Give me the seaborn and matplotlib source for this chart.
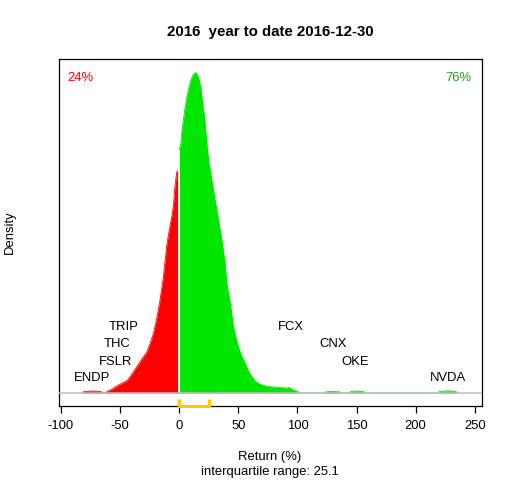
import numpy as np
import pandas as pd
import matplotlib
matplotlib.use("Agg")
import matplotlib.pyplot as plt
import seaborn as sns

# density (returns < 0 in red, >= 0 in green)
neg_x = [-81.5, -80.5, -73, -66, -65, -62, -61.1, -56.9, -52.7, -48.4, -44.2, -41.4, -38.6,
         -35.8, -33, -30.2, -27.3, -24.5, -21.7, -18.9, -16.1, -13.3, -10.4, -7.6, -6.2,
         -4.8, -3.4, -2, 0]
neg_d = [0, 1.5, 2, 1.5, 0, 0, 1.3, 3.7, 7, 9.7, 12.3, 16.3, 21.3,
         26.3, 31.3, 36, 41, 49.7, 59.7, 74.7, 93, 116, 148, 168, 176,
         188, 208, 221, 224]
pos_x = [0, 1.4, 2.3, 3.7, 5.1, 6.5, 7.9, 9.9, 12.1, 14.1, 16.3, 18.3, 19.7, 21.1, 22.5,
         23.9, 25.4, 26.8, 28.5, 30.4, 32.4, 34.7, 36.6, 38.9, 40.3, 42.3, 44, 45.9, 47.9,
         50.1, 52.1, 54.4, 57.2, 60, 64.2, 68.5, 74.1, 79.7, 85, 91, 93, 96.6, 100, 102,
         123, 124, 130, 135.5, 137, 144, 145, 150, 156, 157, 219, 220, 227, 234, 235]
pos_d = [243, 249, 262, 274, 286, 296, 304, 313, 319, 320.4, 316, 306, 291, 279, 262,
         243, 229, 219, 206, 193, 179, 163, 149, 129, 109, 96, 83, 66, 56,
         46, 39, 33, 26, 19, 12, 8.7, 6.7, 6, 5.5, 5, 5.5, 3, 1.5, 0,
         0, 1.2, 1.5, 1.2, 0, 0, 1.5, 2, 1.5, 0, 0, 1.5, 2.2, 1.5, 0]
neg_d = [v * 1e-4 for v in neg_d]
pos_d = [v * 1e-4 for v in pos_d]

# extreme stocks labelled on the chart
names = ["ENDP", "FSLR", "THC", "TRIP", "FCX", "CNX", "OKE", "NVDA"]
name_x = [-73.8, -53.3, -52.2, -47, 94.4, 130.4, 148.8, 227.6]
name_y = [0.00153, 0.00313, 0.00487, 0.00663, 0.00663, 0.00487, 0.00313, 0.00153]

q1, q3 = 0.0, 25.1
pct_neg, pct_pos = "24%", "76%"
title = "2016  year to date 2016-12-30"

sns.set_style("white")
plt.rcParams['font.family'] = ['Liberation Sans', 'DejaVu Sans']
plt.rcParams['axes.unicode_minus'] = False
plt.rcParams['text.color'] = 'black'
plt.rcParams['xtick.color'] = 'black'
plt.rcParams['xtick.labelcolor'] = 'black'

fig = plt.figure(figsize=(5.12, 4.8), dpi=100)
ax = fig.add_axes([59 / 512, 74 / 480, 423 / 512, 347 / 480])

df = pd.DataFrame({
    "ret": neg_x + pos_x,
    "dens": neg_d + pos_d,
    "side": ["neg"] * len(neg_x) + ["pos"] * len(pos_x),
})
pal = {"neg": "#ff0000", "pos": "#00e600"}
ax.fill_between(neg_x, 0, neg_d, color=pal["neg"], lw=0)
ax.fill_between(pos_x, 0, pos_d, color=pal["pos"], lw=0)
sns.lineplot(data=df, x="ret", y="dens", hue="side", palette=pal, legend=False,
             lw=0.6, ax=ax, sort=False, estimator=None)
ax.vlines(0, 0, pos_d[0], color="white", lw=1.3, zorder=3)
ax.axhline(0, color="#bebebe", lw=1.1, zorder=4)

# interquartile bracket
ax.plot([q1, q1, q3, q3], [-0.0006, -0.00125, -0.00125, -0.0006],
        color="#ffcc00", lw=2.2, solid_capstyle="butt", clip_on=False, zorder=5)

for n, x, y in zip(names, name_x, name_y):
    ax.text(x, y, n, ha="center", va="center", fontsize=9.4)

ax.text(0.019, 0.945, pct_neg, color="#ff0000", fontsize=9.4, transform=ax.transAxes,
        ha="left", va="center")
ax.text(0.976, 0.945, pct_pos, color="#22a022", fontsize=9.4, transform=ax.transAxes,
        ha="right", va="center")

ax.set_xlim(-101.5, 256)
ax.set_ylim(-0.0013, 0.0334)
ax.set_xticks([-100, -50, 0, 50, 100, 150, 200, 250])
ax.set_yticks([])
ax.set_xlabel("")
ax.set_ylabel("")
ax.tick_params(axis="x", direction="out", length=5, width=0.9, pad=5, labelsize=9.4,
               bottom=True, color="black", labelcolor="black")
for s in ax.spines.values():
    s.set_color("black")
    s.set_linewidth(0.9)

fig.text(270 / 512, 1 - 32 / 480, title, ha="center", va="center", fontsize=10.8,
         fontweight="bold")
fig.text(270 / 512, 1 - 456.7 / 480, "Return (%)", ha="center", va="center", fontsize=9.4)
fig.text(270 / 512, 1 - 471.7 / 480, "interquartile range: 25.1", ha="center", va="center",
         fontsize=9.4)
fig.text(10 / 512, 1 - 232.5 / 480, "Density", ha="center", va="center", fontsize=9.4,
         rotation=90)

fig.savefig("out.png", dpi=100, facecolor="white")
